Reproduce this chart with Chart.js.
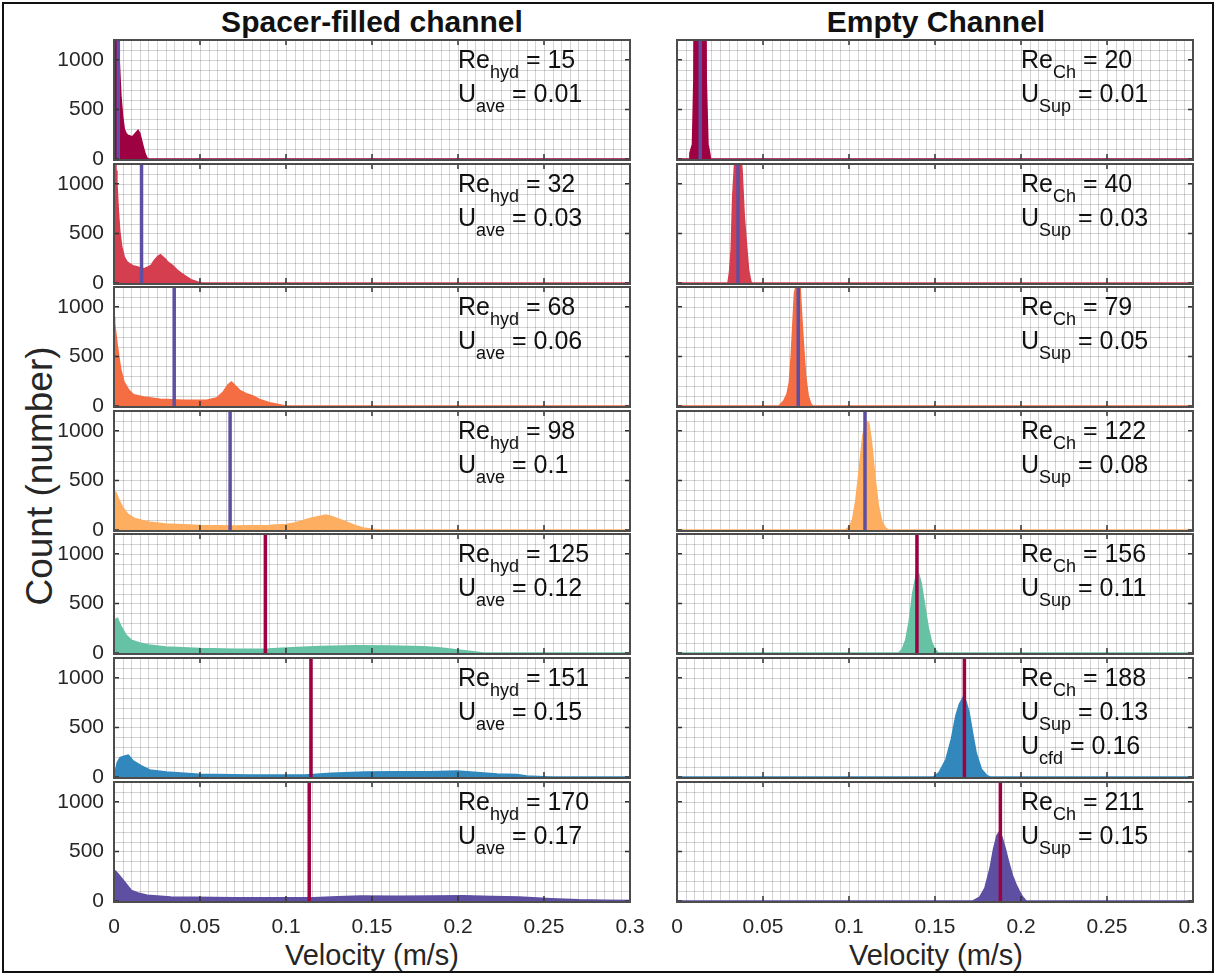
<!DOCTYPE html>
<html><head><meta charset="utf-8">
<script src="https://cdn.jsdelivr.net/npm/chart.js@4.4.1/dist/chart.umd.min.js"></script>
<style>
html,body{margin:0;padding:0;background:#fff;}
body{width:1216px;height:975px;position:relative;overflow:hidden;font-family:"Liberation Sans",Arial,sans-serif;}
#frame{position:absolute;left:2px;top:2px;width:1208px;height:967px;border:2px solid #111;}
canvas.panel{position:absolute;}
.title{position:absolute;font-weight:bold;font-size:30px;color:#111;transform:translate(-50%,-50%);white-space:nowrap;}
.xlab{position:absolute;font-size:29px;color:#262626;transform:translate(-50%,-50%);white-space:nowrap;}
.ylab{position:absolute;font-size:37px;color:#262626;transform:translate(-50%,-50%) rotate(-90deg);white-space:nowrap;}
</style></head>
<body>
<div id="frame"></div>
<div class="title" style="left:372px;top:22px;">Spacer-filled channel</div>
<div class="title" style="left:936px;top:22px;">Empty Channel</div>
<div class="ylab" style="left:40px;top:476px;">Count (number)</div>
<div class="xlab" style="left:372px;top:955px;">Velocity (m/s)</div>
<div class="xlab" style="left:936px;top:955px;">Velocity (m/s)</div>
<script>
// ---------------- data ----------------
const xTickValues = [0, 0.05, 0.1, 0.15, 0.2, 0.25, 0.3];
const yTickValues = [0, 500, 1000];
const rowColors = ['#9E0142', '#D53E4F', '#F46D43', '#FDAE61', '#66C2A5', '#3288BD', '#5E4FA2'];
const meanColors = ['#5E4FA2', '#5E4FA2', '#5E4FA2', '#5E4FA2', '#9E0142', '#9E0142', '#9E0142'];

// Spacer-filled channel
const spacerRe = ['15', '32', '68', '98', '125', '151', '170'];
const spacerU = ['0.01', '0.03', '0.06', '0.1', '0.12', '0.15', '0.17'];
const spacerMean = [0.0025, 0.016, 0.035, 0.0675, 0.088, 0.1145, 0.1135];

const sV1 = [0, 0.0005, 0.001, 0.002, 0.003, 0.004, 0.005, 0.006, 0.007, 0.008, 0.009, 0.010, 0.011, 0.012, 0.013, 0.014, 0.015, 0.016, 0.017, 0.018, 0.019, 0.020, 0.3];
const sC1 = [3000, 3000, 2500, 1500, 1000, 640, 430, 300, 260, 240, 235, 225, 230, 250, 270, 290, 260, 190, 120, 60, 15, 0, 0];
const sV2 = [0, 0.0008, 0.0012, 0.0017, 0.0025, 0.0033, 0.0045, 0.006, 0.0075, 0.009, 0.011, 0.0138, 0.0158, 0.0176, 0.0195, 0.0215, 0.0235, 0.0255, 0.027, 0.0284, 0.030, 0.0312, 0.034, 0.0369, 0.0409, 0.0448, 0.0486, 0.051, 0.3];
const sC2 = [3000, 1500, 1135, 1005, 733, 531, 363, 262, 215, 195, 175, 161, 150, 145, 160, 178, 230, 270, 285, 265, 240, 212, 178, 128, 78, 34, 10, 0, 0];
const sV3 = [0, 0.0004, 0.0019, 0.0038, 0.0058, 0.0087, 0.0115, 0.0173, 0.0269, 0.0404, 0.0538, 0.0596, 0.0635, 0.0663, 0.0683, 0.0702, 0.0731, 0.0769, 0.0808, 0.0846, 0.0904, 0.0962, 0.1, 0.3];
const sC3 = [900, 830, 612, 376, 242, 158, 114, 91, 67, 57, 57, 81, 141, 215, 242, 208, 158, 124, 101, 67, 34, 13, 0, 0];
const sV4 = [0, 0.001, 0.003, 0.005, 0.008, 0.012, 0.02, 0.03, 0.05, 0.07, 0.09, 0.1, 0.105, 0.11, 0.115, 0.12, 0.123, 0.126, 0.13, 0.135, 0.14, 0.145, 0.15, 0.155, 0.3];
const sC4 = [390, 380, 300, 230, 160, 115, 80, 60, 45, 40, 45, 55, 70, 95, 120, 140, 150, 140, 115, 80, 45, 20, 8, 0, 0];
const sV5 = [0, 0.001, 0.002, 0.004, 0.007, 0.01, 0.015, 0.02, 0.03, 0.05, 0.07, 0.09, 0.1, 0.12, 0.14, 0.16, 0.18, 0.19, 0.2, 0.21, 0.215, 0.3];
const sC5 = [260, 340, 350, 270, 180, 130, 100, 80, 60, 45, 38, 40, 50, 65, 72, 70, 62, 50, 30, 10, 0, 0];
const sV6 = [0, 0.0006, 0.0019, 0.0035, 0.0063, 0.0083, 0.0112, 0.016, 0.0208, 0.0304, 0.0496, 0.0785, 0.111, 0.1265, 0.1458, 0.165, 0.1842, 0.1996, 0.2131, 0.2227, 0.2342, 0.24, 0.2496, 0.255, 0.3];
const sC6 = [0, 44, 145, 196, 213, 220, 162, 112, 71, 51, 27, 20, 20, 37, 51, 54, 54, 61, 44, 30, 24, 10, 3, 0, 0];
const sV7 = [0, 0.001, 0.003, 0.0055, 0.0101, 0.014, 0.0193, 0.033, 0.07, 0.116, 0.13, 0.1435, 0.165, 0.185, 0.203, 0.22, 0.2355, 0.254, 0.27, 0.285, 0.3];
const sC7 = [310, 300, 260, 208, 107, 80, 57, 40, 34, 34, 42, 50, 48, 50, 52, 45, 40, 23, 12, 8, 5];

// Empty channel
const emptyRe = ['20', '40', '79', '122', '156', '188', '211'];
const emptyU = ['0.01', '0.03', '0.05', '0.08', '0.11', '0.13', '0.15'];
const emptyUcfd = [null, null, null, null, null, '0.16', null];
const emptyMean = [0.0135, 0.0355, 0.0705, 0.1093, 0.1395, 0.1671, 0.188];

const eV1 = [0, 0.007, 0.0075, 0.009, 0.0098, 0.0102, 0.0165, 0.017, 0.018, 0.019, 0.0195, 0.3];
const eC1 = [0, 0, 60, 150, 800, 3000, 3000, 800, 150, 60, 0, 0];
const eV2 = [0, 0.0296, 0.0305, 0.0315, 0.0324, 0.0334, 0.0344, 0.0365, 0.0378, 0.0391, 0.0405, 0.0416, 0.0429, 0.0435, 0.3];
const eC2 = [0, 0, 101, 337, 876, 1180, 1400, 1400, 1146, 674, 371, 135, 17, 0, 0];
const eV3 = [0, 0.0592, 0.062, 0.0639, 0.0653, 0.0664, 0.0674, 0.0683, 0.0691, 0.0705, 0.0716, 0.0725, 0.0737, 0.0748, 0.0763, 0.0779, 0.079, 0.3];
const eC3 = [0, 0, 50, 117, 235, 503, 838, 1140, 1200, 1230, 1190, 905, 570, 302, 100, 17, 0, 0];
const eV4 = [0, 0.098, 0.1, 0.102, 0.104, 0.106, 0.108, 0.11, 0.1115, 0.113, 0.115, 0.117, 0.119, 0.121, 0.123, 0.3];
const eC4 = [0, 0, 30, 100, 300, 620, 950, 1100, 1080, 900, 550, 250, 90, 25, 0, 0];
const eV5 = [0, 0.129, 0.131, 0.133, 0.135, 0.137, 0.139, 0.1405, 0.142, 0.144, 0.146, 0.148, 0.15, 0.152, 0.3];
const eC5 = [0, 0, 40, 130, 320, 600, 780, 800, 700, 480, 260, 110, 35, 0, 0];
const eV6 = [0, 0.149, 0.1523, 0.1564, 0.1595, 0.1621, 0.1642, 0.1663, 0.1679, 0.1698, 0.1718, 0.1739, 0.177, 0.18, 0.182, 0.3];
const eC6 = [0, 0, 44, 179, 381, 617, 735, 802, 769, 651, 448, 246, 78, 17, 0, 0];
const eV7 = [0, 0.172, 0.176, 0.179, 0.182, 0.184, 0.186, 0.1875, 0.189, 0.191, 0.193, 0.195, 0.197, 0.199, 0.201, 0.203, 0.3];
const eC7 = [0, 0, 40, 130, 330, 520, 660, 700, 640, 520, 380, 260, 170, 100, 40, 0, 0];

const spacerVel = [sV1, sV2, sV3, sV4, sV5, sV6, sV7];
const spacerCnt = [sC1, sC2, sC3, sC4, sC5, sC6, sC7];
const emptyVel = [eV1, eV2, eV3, eV4, eV5, eV6, eV7];
const emptyCnt = [eC1, eC2, eC3, eC4, eC5, eC6, eC7];

// ---------------- layout ----------------
const X_MIN = 0, X_MAX = 0.3, Y_MIN = 0, Y_MAX = 1200;
const ROW_TOP0 = 40, ROW_STEP = 123.6, PLOT_H = 119, PLOT_W = 516;
const COL_LEFT = [114, 677];
const PAD = 26, PAD_R = 30, Y_W = 60, X_H = 38;
const FONT = '"Liberation Sans", Arial, Helvetica, sans-serif';

function fmtX(v) { return String(Number(v.toFixed(3))); }

const decoPlugin = {
  id: 'deco',
  beforeDatasetsDraw(chart) {
    const {ctx, chartArea: a, scales: {x, y}} = chart;
    ctx.save();
    ctx.strokeStyle = 'rgba(0,0,0,0.17)';
    ctx.lineWidth = 1;
    ctx.beginPath();
    for (let i = 1; i < 60; i++) {
      const px = Math.round(x.getPixelForValue(i * 0.005)) + 0.5;
      ctx.moveTo(px, a.top); ctx.lineTo(px, a.bottom);
    }
    for (let j = 1; j < 12; j++) {
      const py = Math.round(y.getPixelForValue(j * 100)) + 0.5;
      ctx.moveTo(a.left, py); ctx.lineTo(a.right, py);
    }
    ctx.stroke();
    ctx.restore();
  },
  afterDatasetsDraw(chart) {
    const {ctx, chartArea: a, scales: {x, y}} = chart;
    ctx.save();
    ctx.strokeStyle = '#333';
    ctx.lineWidth = 1.5;
    ctx.beginPath();
    xTickValues.forEach(v => {
      const px = x.getPixelForValue(v);
      ctx.moveTo(px, a.bottom); ctx.lineTo(px, a.bottom - 5);
      ctx.moveTo(px, a.top); ctx.lineTo(px, a.top + 5);
    });
    yTickValues.forEach(v => {
      const py = y.getPixelForValue(v);
      ctx.moveTo(a.left, py); ctx.lineTo(a.left + 5, py);
      ctx.moveTo(a.right, py); ctx.lineTo(a.right - 5, py);
    });
    ctx.stroke();
    ctx.strokeStyle = '#4d4d4d';
    ctx.lineWidth = 2;
    ctx.strokeRect(a.left, a.top, a.right - a.left, a.bottom - a.top + 1);
    ctx.restore();
  },
  afterDraw(chart, args, opts) {
    const {ctx, chartArea: a, scales: {x}} = chart;
    const x0 = x.getPixelForValue(opts.annotX);
    ctx.save();
    ctx.fillStyle = '#111';
    ctx.textAlign = 'left';
    ctx.textBaseline = 'alphabetic';
    opts.lines.forEach((ln, i) => {
      const base = a.top + 28 + i * 34;
      ctx.font = '25px ' + FONT;
      ctx.fillText(ln[0], x0, base);
      let xx = x0 + ctx.measureText(ln[0]).width;
      ctx.font = '18px ' + FONT;
      ctx.fillText(ln[1], xx, base + 10);
      xx += ctx.measureText(ln[1]).width;
      ctx.font = '25px ' + FONT;
      ctx.fillText(ln[2], xx, base);
    });
    ctx.restore();
  }
};

function makePanel(col, row, vel, cnt, mean, lines) {
  const isBottom = row === 6;
  const yW = col === 0 ? Y_W : 0;
  const padL = col === 0 ? 0 : 24;
  const xH = isBottom ? X_H : 0;
  const w = padL + yW + PLOT_W + PAD_R;
  const h = PAD + PLOT_H + xH + PAD;
  const top = ROW_TOP0 + row * ROW_STEP;
  const cv = document.createElement('canvas');
  cv.className = 'panel';
  cv.width = w; cv.height = h;
  cv.style.width = w + 'px'; cv.style.height = h + 'px';
  cv.style.left = (COL_LEFT[col] - yW - padL) + 'px';
  cv.style.top = (Math.round(top) - PAD) + 'px';
  document.body.appendChild(cv);
  const pts = vel.map((v, i) => ({x: v, y: cnt[i]}));
  new Chart(cv, {
    type: 'line',
    data: {
      datasets: [
        {data: [{x: mean, y: Y_MIN}, {x: mean, y: Y_MAX}], borderColor: meanColors[row], borderWidth: 3.5,
         pointRadius: 0, fill: false, clip: 0},
        {data: pts, borderColor: rowColors[row], backgroundColor: rowColors[row], borderWidth: 1.5,
         pointRadius: 0, fill: 'origin', tension: 0, clip: 0}
      ]
    },
    options: {
      responsive: false, animation: false, events: [],
      devicePixelRatio: 1,
      layout: {padding: {left: padL, right: PAD_R, top: PAD, bottom: PAD}},
      plugins: {
        legend: {display: false}, tooltip: {enabled: false},
        deco: {annotX: 0.2, lines: lines}
      },
      scales: {
        x: {
          type: 'linear', min: X_MIN, max: X_MAX,
          grid: {display: false, drawTicks: false}, border: {display: false},
          ticks: {display: isBottom, maxRotation: 0, minRotation: 0, autoSkip: false, padding: 14,
                  color: '#262626', font: {size: 21, family: FONT}, callback: v => fmtX(v)},
          afterBuildTicks: s => { s.ticks = xTickValues.map(v => ({value: v})); },
          afterFit: s => { s.height = xH; }
        },
        y: {
          type: 'linear', min: Y_MIN, max: Y_MAX,
          grid: {display: false, drawTicks: false}, border: {display: false},
          ticks: {display: col === 0, padding: 10, color: '#262626',
                  font: {size: 21, family: FONT}, callback: v => String(v)},
          afterBuildTicks: s => { s.ticks = yTickValues.map(v => ({value: v})); },
          afterFit: s => { s.width = yW; }
        }
      }
    },
    plugins: [decoPlugin]
  });
}

for (let r = 0; r < 7; r++) {
  makePanel(0, r, spacerVel[r], spacerCnt[r], spacerMean[r], [
    ['Re', 'hyd', ' = ' + spacerRe[r]],
    ['U', 'ave', ' = ' + spacerU[r]]
  ]);
  const el = [['Re', 'Ch', ' = ' + emptyRe[r]], ['U', 'Sup', ' = ' + emptyU[r]]];
  if (emptyUcfd[r]) el.push(['U', 'cfd', ' = ' + emptyUcfd[r]]);
  makePanel(1, r, emptyVel[r], emptyCnt[r], emptyMean[r], el);
}
</script>
</body></html>
